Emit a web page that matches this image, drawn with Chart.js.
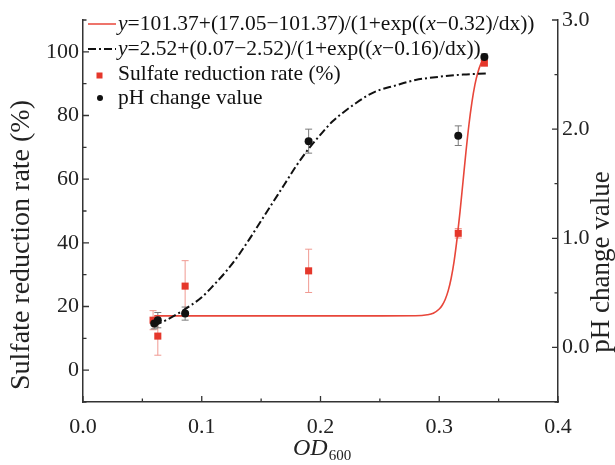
<!DOCTYPE html>
<html><head><meta charset="utf-8">
<script src="https://cdn.jsdelivr.net/npm/chart.js@4.4.1/dist/chart.umd.min.js"></script>
<style>html,body{margin:0;padding:0;background:#fff}#wrap{width:615px;height:465px;position:relative}</style>
</head><body><div id="wrap"><canvas id="c" width="615" height="465"></canvas></div>
<script>
// ---- data ----
const sulfateX   = [0.059, 0.063, 0.086, 0.190, 0.316, 0.338];
const sulfateY   = [15.7, 10.7, 26.4, 31.2, 43.0, 96.5];
const sulfateErr = [3.0, 6.0, 8.0, 6.8, 1.5, 1.0];

const phX   = [0.060, 0.063, 0.086, 0.190, 0.316, 0.338];
const phY   = [0.22, 0.25, 0.31, 1.89, 1.94, 2.66];
const phErr = [0.05, 0.07, 0.06, 0.11, 0.09, 0.03];

// fitted curves, points
const sulfateFitX = [0.06, 0.10, 0.15, 0.20, 0.25, 0.28, 0.29, 0.295, 0.30, 0.3025, 0.305, 0.3075, 0.31, 0.3125, 0.315, 0.3175, 0.32, 0.3225, 0.325, 0.3275, 0.33, 0.3325, 0.335, 0.338];
const sulfateFitY = [17.05, 17.05, 17.05, 17.05, 17.06, 17.1, 17.4, 17.9, 19.2, 20.4, 22.2, 24.9, 28.8, 34.2, 41.3, 49.8, 59.2, 68.6, 77.1, 84.1, 89.6, 93.5, 96.2, 98.3];

const phFitX = [0.06, 0.07, 0.08, 0.09, 0.10, 0.11, 0.12, 0.13, 0.14, 0.15, 0.16, 0.17, 0.18, 0.19, 0.20, 0.21, 0.22, 0.23, 0.24, 0.25, 0.26, 0.28, 0.30, 0.32, 0.34];
const phFitY = [0.20, 0.25, 0.31, 0.38, 0.46, 0.57, 0.69, 0.83, 0.99, 1.16, 1.33, 1.50, 1.67, 1.82, 1.95, 2.07, 2.16, 2.24, 2.31, 2.36, 2.39, 2.45, 2.48, 2.50, 2.51];

const xTicks = [0, 0.1, 0.2, 0.3, 0.4];
const xMinorTicks = [0.05, 0.15, 0.25, 0.35];
const leftTicks = [0, 20, 40, 60, 80, 100];
const leftMinorTicks = [-10, 10, 30, 50, 70, 90, 110];
const rightTicks = [0, 1, 2, 3];
const rightMinorTicks = [-0.5, 0.5, 1.5, 2.5];

const legendFit1 = [["y", true], ["=101.37+(17.05\u2212101.37)/(1+exp((", false], ["x", true], ["\u22120.32)/dx))", false]];
const legendFit2 = [["y", true], ["=2.52+(0.07\u22122.52)/(1+exp((", false], ["x", true], ["\u22120.16)/dx))", false]];
const legendSulfate = "Sulfate reduction rate (%)";
const legendPh = "pH change value";
const leftTitle = "Sulfate reduction rate (%)";
const rightTitle = "pH change value";
const xTitleMain = "OD";
const xTitleSub = "600";

// ---- styling ----
const RED = '#e5372b';
const RED_LINE = '#e8463a';
const RED_ERR = '#f09a92';
const BLACK = '#111111';
const GRAY_ERR = '#7a7a7a';
const AXIS = '#333333';
const SERIF = '"Liberation Serif", "Times New Roman", serif';
const DASHDOT = [8, 3, 2, 3];

const zip = (xs, ys) => xs.map((x, i) => ({x, y: ys[i]}));

const errorBars = {
  id: 'errorBars',
  beforeDatasetsDraw(chart) {
    const ctx = chart.ctx;
    const xs = chart.scales.x;
    const sets = [
      {X: sulfateX, Y: sulfateY, E: sulfateErr, s: chart.scales.y, c: RED_ERR},
      {X: phX, Y: phY, E: phErr, s: chart.scales.y2, c: GRAY_ERR}
    ];
    ctx.save();
    ctx.lineWidth = 1;
    for (const st of sets) {
      ctx.strokeStyle = st.c;
      st.X.forEach((xv, i) => {
        const px = xs.getPixelForValue(xv);
        const top = st.s.getPixelForValue(st.Y[i] + st.E[i]);
        const bot = st.s.getPixelForValue(st.Y[i] - st.E[i]);
        ctx.beginPath();
        ctx.moveTo(px, top); ctx.lineTo(px, bot);
        ctx.moveTo(px - 3.5, top); ctx.lineTo(px + 3.5, top);
        ctx.moveTo(px - 3.5, bot); ctx.lineTo(px + 3.5, bot);
        ctx.stroke();
      });
    }
    ctx.restore();
  }
};

function drawParts(ctx, parts, x, y, size) {
  let cx = x;
  for (const [t, it] of parts) {
    ctx.font = (it ? 'italic ' : '') + size + 'px ' + SERIF;
    ctx.fillText(t, cx, y);
    cx += ctx.measureText(t).width;
  }
  return cx;
}

const decorations = {
  id: 'decorations',
  afterDraw(chart) {
    const ctx = chart.ctx;
    const {x, y, y2} = chart.scales;
    const area = chart.chartArea;
    ctx.save();
    // inward ticks
    ctx.strokeStyle = AXIS;
    ctx.lineWidth = 1.3;
    ctx.beginPath();
    const tickX = (vals, len) => vals.forEach(v => { const p = x.getPixelForValue(v); ctx.moveTo(p, area.bottom); ctx.lineTo(p, area.bottom - len); });
    const tickL = (vals, len) => vals.forEach(v => { const p = y.getPixelForValue(v); ctx.moveTo(area.left, p); ctx.lineTo(area.left + len, p); });
    const tickR = (vals, len) => vals.forEach(v => { const p = y2.getPixelForValue(v); ctx.moveTo(area.right, p); ctx.lineTo(area.right - len, p); });
    tickX(xTicks, 6); tickX(xMinorTicks, 3.5);
    tickL(leftTicks, 6); tickL(leftMinorTicks, 3.5);
    tickR(rightTicks, 6); tickR(rightMinorTicks, 3.5);
    ctx.stroke();

    // legend
    ctx.fillStyle = BLACK;
    ctx.textBaseline = 'alphabetic';
    ctx.textAlign = 'left';
    ctx.strokeStyle = RED_LINE; ctx.lineWidth = 1.5;
    ctx.beginPath(); ctx.moveTo(88, 24); ctx.lineTo(116, 24); ctx.stroke();
    ctx.strokeStyle = BLACK; ctx.lineWidth = 2; ctx.setLineDash(DASHDOT);
    ctx.beginPath(); ctx.moveTo(88, 49); ctx.lineTo(116, 49); ctx.stroke();
    ctx.setLineDash([]);
    ctx.fillStyle = RED; ctx.fillRect(96.5, 72.5, 6, 6);
    ctx.fillStyle = BLACK; ctx.beginPath(); ctx.arc(100, 98, 3, 0, Math.PI * 2); ctx.fill();
    ctx.fillStyle = BLACK;
    drawParts(ctx, legendFit1, 118, 30, 21.5);
    drawParts(ctx, legendFit2, 118, 55, 21.5);
    drawParts(ctx, [[legendSulfate, false]], 118, 80, 21.5);
    drawParts(ctx, [[legendPh, false]], 118, 104, 21.5);

    // axis titles
    ctx.fillStyle = '#222';
    ctx.textAlign = 'center';
    ctx.textBaseline = 'middle';
    ctx.font = '28px ' + SERIF;
    ctx.save(); ctx.translate(22, 245); ctx.rotate(-Math.PI / 2); ctx.fillText(leftTitle, 0, 0); ctx.restore();
    ctx.font = '27px ' + SERIF;
    ctx.save(); ctx.translate(602, 262); ctx.rotate(-Math.PI / 2); ctx.fillText(rightTitle, 0, 0); ctx.restore();
    ctx.textAlign = 'left';
    ctx.textBaseline = 'alphabetic';
    ctx.font = 'italic 24px ' + SERIF;
    ctx.fillText(xTitleMain, 293, 455);
    const w = ctx.measureText(xTitleMain).width;
    ctx.font = '15px ' + SERIF;
    ctx.fillText(xTitleSub, 293 + w + 1, 460);
    ctx.restore();
  }
};

const tickFont = {family: SERIF, size: 22};

new Chart(document.getElementById('c'), {
  type: 'scatter',
  data: {
    datasets: [
      {label: 'Sulfate reduction rate (%)', data: zip(sulfateX, sulfateY), yAxisID: 'y', pointStyle: 'rect', pointRadius: 5, backgroundColor: RED, borderColor: RED, borderWidth: 0, order: 1},
      {label: 'pH change value', data: zip(phX, phY), yAxisID: 'y2', pointStyle: 'circle', pointRadius: 4, backgroundColor: BLACK, borderColor: BLACK, borderWidth: 0, order: 0},
      {label: 'fit1', data: zip(sulfateFitX, sulfateFitY), yAxisID: 'y', showLine: true, pointRadius: 0, borderColor: RED_LINE, borderWidth: 1.6, cubicInterpolationMode: 'monotone', order: 3},
      {label: 'fit2', data: zip(phFitX, phFitY), yAxisID: 'y2', showLine: true, pointRadius: 0, borderColor: BLACK, borderWidth: 2, borderDash: DASHDOT, cubicInterpolationMode: 'monotone', order: 2}
    ]
  },
  options: {
    responsive: false,
    animation: false,
    devicePixelRatio: 1,
    layout: {padding: {top: 20, left: 0, right: 0, bottom: 0}},
    plugins: {legend: {display: false}, tooltip: {enabled: false}, title: {display: false}},
    scales: {
      x: {
        type: 'linear', position: 'bottom', min: 0, max: 0.4,
        afterBuildTicks: s => { s.ticks = xTicks.map(v => ({value: v})); },
        afterFit: s => { s.height = 63; },
        ticks: {font: tickFont, color: '#222', padding: 12, maxRotation: 0, callback: v => v.toFixed(1)},
        grid: {display: false, drawTicks: false},
        border: {display: true, color: AXIS, width: 1.5}
      },
      y: {
        type: 'linear', position: 'left', min: -10, max: 110,
        afterBuildTicks: s => { s.ticks = leftTicks.map(v => ({value: v})); },
        afterFit: s => { s.width = 83; },
        ticks: {font: tickFont, color: '#222', padding: 4, callback: v => String(v)},
        grid: {display: false, drawTicks: false},
        border: {display: true, color: AXIS, width: 1.5}
      },
      y2: {
        type: 'linear', position: 'right', min: -0.5, max: 3.0,
        afterBuildTicks: s => { s.ticks = rightTicks.map(v => ({value: v})); },
        afterFit: s => { s.width = 57; },
        ticks: {font: tickFont, color: '#222', padding: 4, callback: v => v.toFixed(1)},
        grid: {display: false, drawTicks: false},
        border: {display: true, color: AXIS, width: 1.5}
      }
    }
  },
  plugins: [errorBars, decorations]
});
</script>
</body></html>
